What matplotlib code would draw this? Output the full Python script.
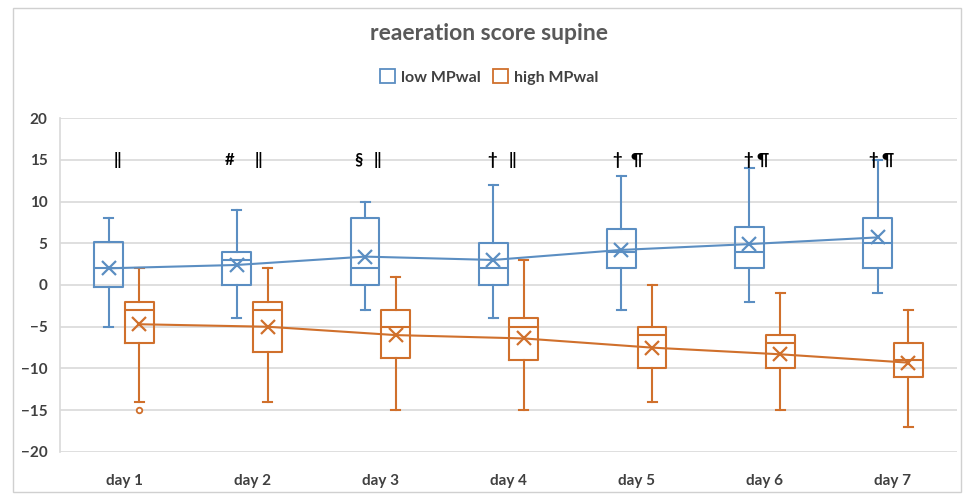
import numpy as np
import matplotlib.pyplot as plt
from matplotlib.patches import Patch, Rectangle

plt.rcParams['font.family'] = ['Lato', 'DejaVu Sans']

days = ['day 1', 'day 2', 'day 3', 'day 4', 'day 5', 'day 6', 'day 7']

# low MPwal (blue) : whisker low, Q1, median, Q3, whisker high, mean
low_whislo = [-5, -4, -3, -4, -3, -2, -1]
low_q1 = [-0.2, 0, 0, 0, 2, 2, 2]
low_med = [2, 3, 2, 2, 4, 4, 5]
low_q3 = [5.2, 4, 8, 5, 6.7, 7, 8]
low_whishi = [8, 9, 10, 12, 13, 14, 15]
low_mean = [2.0, 2.4, 3.4, 3.0, 4.2, 4.9, 5.7]
low_fliers = [[], [], [], [], [], [], []]

# high MPwal (orange)
high_whislo = [-14, -14, -15, -15, -14, -15, -17]
high_q1 = [-7, -8, -8.7, -9, -10, -10, -11]
high_med = [-3, -3, -5, -5, -6, -7, -9]
high_q3 = [-2, -2, -3, -4, -5, -6, -7]
high_whishi = [2, 2, 1, 3, 0, -1, -3]
high_mean = [-4.7, -5.0, -6.0, -6.4, -7.5, -8.3, -9.3]
high_fliers = [[-15], [], [], [], [], [], []]

# significance marks above each day: (day index, x offset, symbol)
marks = [
    (0, -0.055, '‖'),
    (1, -0.18, '#'), (1, 0.05, '‖'),
    (2, -0.17, '§'), (2, -0.02, '‖'),
    (3, -0.125, '†'), (3, 0.03, '‖'),
    (4, -0.15, '†'), (4, 0.0, '¶'),
    (5, -0.13, '†'), (5, -0.015, '¶'),
    (6, -0.155, '†'), (6, -0.04, '¶'),
]

blue = '#5B8EC2'
orange = '#D0702C'


def make_stats(lo, q1, med, q3, hi, mean, fl):
    return [dict(whislo=lo[i], q1=q1[i], med=med[i], q3=q3[i], whishi=hi[i],
                 mean=mean[i], fliers=fl[i]) for i in range(len(lo))]


fig = plt.figure(figsize=(9.73, 5.03), dpi=100)
ax = fig.add_axes([0.0617, 0.1014, 0.9219, 0.664])

x = np.arange(len(days))
off = 0.12
width = 0.225

for stats, pos, col, means in [
    (make_stats(low_whislo, low_q1, low_med, low_q3, low_whishi, low_mean, low_fliers), x - off, blue, low_mean),
    (make_stats(high_whislo, high_q1, high_med, high_q3, high_whishi, high_mean, high_fliers), x + off, orange, high_mean),
]:
    ax.bxp(stats, positions=pos, widths=width, capwidths=0.07, showmeans=False,
           boxprops=dict(color=col, linewidth=1.5),
           medianprops=dict(color=col, linewidth=1.5),
           whiskerprops=dict(color=col, linewidth=1.5),
           capprops=dict(color=col, linewidth=1.5),
           flierprops=dict(marker='o', markerfacecolor='white', markeredgecolor=col,
                           markersize=4, markeredgewidth=1.3),
           manage_ticks=False, zorder=3)
    ax.plot(pos, means, color=col, linewidth=1.5, zorder=4)
    ax.plot(pos, means, linestyle='none', marker='x', color=col, markersize=10,
            markeredgewidth=1.6, zorder=5)

for d, dx, s in marks:
    ax.text(x[d] + dx, 15, s, ha='center', va='center', fontsize=12,
            fontweight='bold', color='black', zorder=6)

ax.set_xlim(-0.5, len(days) - 0.5)
ax.set_ylim(-20, 20)
ax.set_yticks(np.arange(-20, 21, 5))
ax.set_xticks(x)
ax.set_xticklabels(days)
ax.tick_params(axis='both', length=0, labelsize=11, pad=16)
ax.tick_params(axis='y', pad=9)
for lbl in ax.get_xticklabels() + ax.get_yticklabels():
    lbl.set_fontweight('bold')
    lbl.set_color('#404040')
for yv in np.arange(-20, 21, 5):
    ax.axhline(yv, color='#D9D9D9', linewidth=1.2, zorder=0)
for sp in ax.spines.values():
    sp.set_visible(False)
ax.spines['left'].set_visible(True)
ax.spines['left'].set_color('#D9D9D9')
ax.spines['left'].set_linewidth(1.2)

fig.text(0.503, 0.934, 'reaeration score supine', ha='center', va='center',
         fontsize=16.5, fontweight='bold', color='#595959')

handles = [Patch(facecolor='white', edgecolor=blue, linewidth=1.3, label='low MPwal'),
           Patch(facecolor='white', edgecolor=orange, linewidth=1.3, label='high MPwal')]
leg = fig.legend(handles=handles, loc='center', bbox_to_anchor=(0.503, 0.847), ncol=2,
                 frameon=False, fontsize=11.5, handlelength=0.9, handleheight=0.9,
                 handletextpad=0.4, columnspacing=0.8)
for t in leg.get_texts():
    t.set_fontweight('bold')
    t.set_color('#404040')

fig.add_artist(Rectangle((0.013, 0.022), 0.975, 0.963, transform=fig.transFigure,
                         fill=False, edgecolor='#D0D0D0', linewidth=1.0))

fig.savefig('out.png', dpi=100)
